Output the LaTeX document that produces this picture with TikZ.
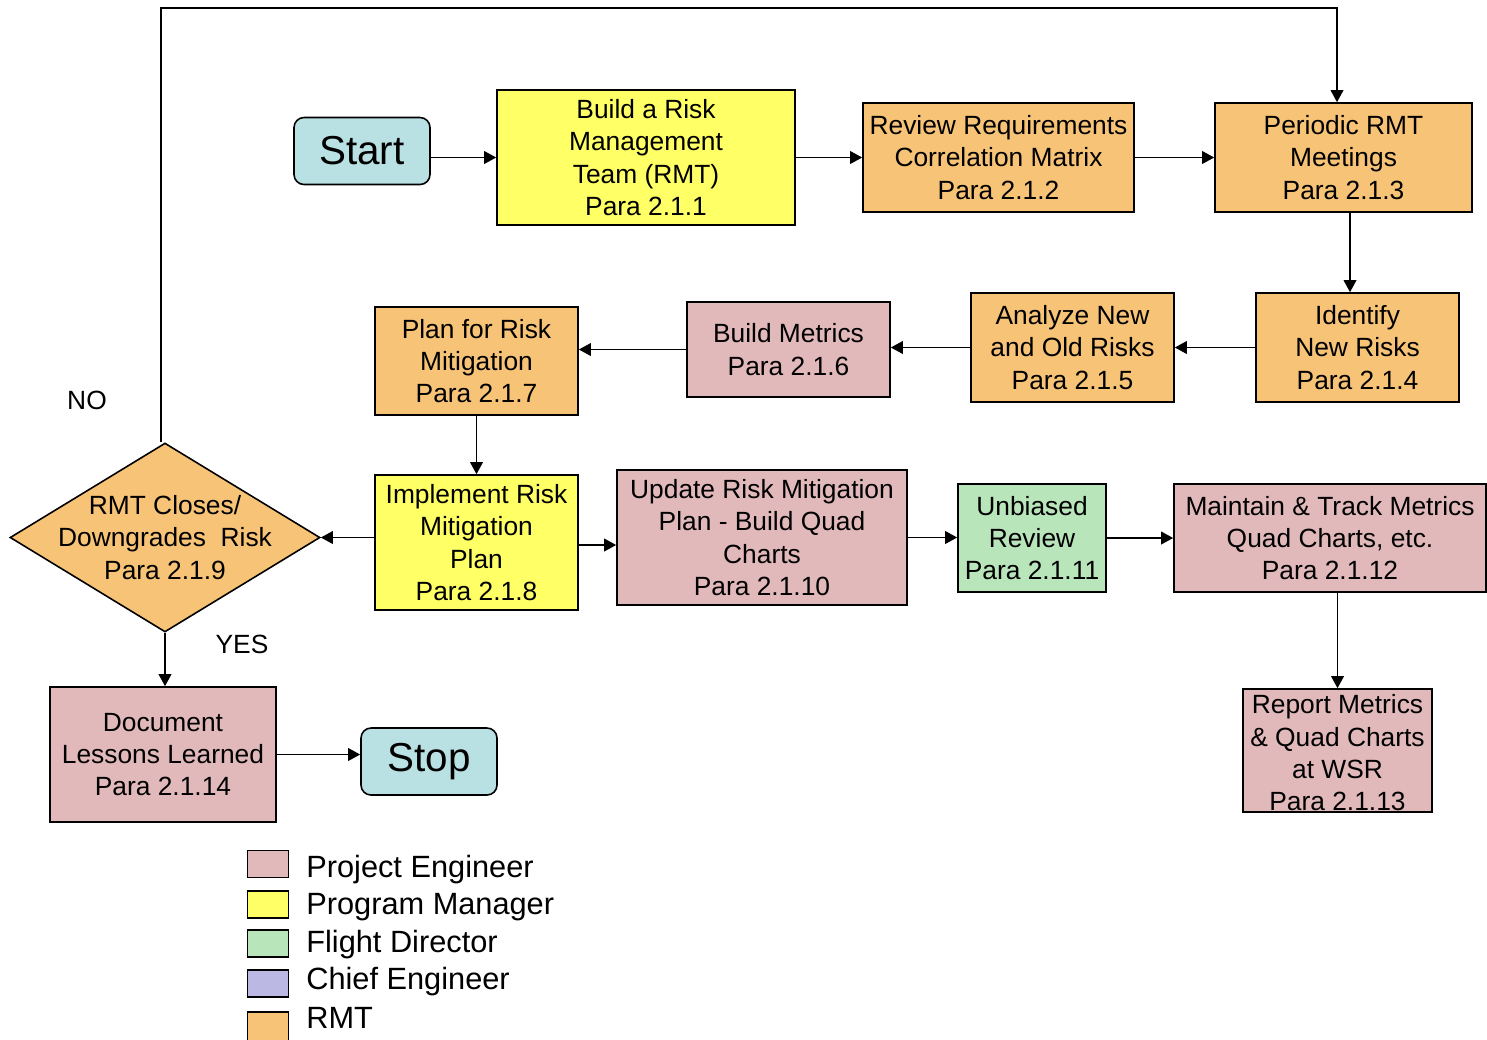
\documentclass[tikz,border=0pt]{standalone}
\usepackage{fontspec}
\setmainfont{Liberation Sans}
\usetikzlibrary{arrows.meta,shapes.geometric}
\definecolor{cpe}{RGB}{226,185,187}
\definecolor{cpm}{RGB}{255,255,102}
\definecolor{cfd}{RGB}{185,229,187}
\definecolor{cce}{RGB}{187,184,227}
\definecolor{crmt}{RGB}{247,195,118}
\definecolor{cse}{RGB}{185,224,227}
\begin{document}
\begin{tikzpicture}[x=0.02cm,y=-0.02cm,
  box/.style 2 args={draw, line width=0.9pt, inner sep=0pt, align=center,
    minimum width=#1*0.02cm, minimum height=#2*0.02cm,
    font=\fontsize{15}{18.4}\selectfont},
  txt/.style={inner sep=0pt, align=center, font=\fontsize{15}{18.4}\selectfont},
  term/.style={draw, line width=0.9pt, rounded corners=0.2cm, fill=cse, inner sep=0pt,
    minimum width=136*0.02cm, minimum height=67*0.02cm, font=\fontsize{23}{27}\selectfont},
  legsq/.style={draw, line width=0.9pt, inner sep=0pt, minimum width=41*0.02cm, minimum height=27*0.02cm},
  legtxt/.style={inner sep=0pt, anchor=base west, font=\fontsize{17.5}{21}\selectfont},
  arr/.style={line width=1.1pt, -{Triangle[length=0.24cm,width=0.25cm]}},
  ln/.style={line width=1.1pt}]
\useasboundingbox (0,0) rectangle (1487,1039);
\clip (0,0) rectangle (1487,1039);

% nodes
\node[term] (start) at (362,151) {Start};
\node[box={298}{135}, fill=cpm] (bld) at (646,157.5) {Build a Risk\\Management\\Team (RMT)\\Para 2.1.1};
\node[box={271}{109}, fill=crmt] (rev) at (998.5,157.5) {Review Requirements\\Correlation Matrix\\Para 2.1.2};
\node[box={257}{109}, fill=crmt] (per) at (1343.5,157.5) {Periodic RMT\\Meetings\\Para 2.1.3};
\node[box={203}{109}, fill=crmt] (idn) at (1357.5,347.5) {Identify\\New Risks\\Para 2.1.4};
\node[box={203}{109}, fill=crmt] (ana) at (1072.5,347.5) {Analyze New\\and Old Risks\\Para 2.1.5};
\node[box={203}{95}, fill=cpe] (met) at (788.5,349.5) {Build Metrics\\Para 2.1.6};
\node[box={203}{108}, fill=crmt] (pln) at (476.5,361) {Plan for Risk\\Mitigation\\Para 2.1.7};
\node[box={203}{135}, fill=cpm] (imp) at (476.5,542.5) {Implement Risk\\Mitigation\\Plan\\Para 2.1.8};
\node[diamond, draw, line width=0.9pt, fill=crmt, inner sep=0pt,
      minimum width=310*0.02cm, minimum height=189*0.02cm] (dia) at (165,537.5) {};
\node[txt] (diatext) at (dia.center) {RMT Closes/\\Downgrades\ \ Risk\\Para 2.1.9};
\node[box={290}{135}, fill=cpe] (upd) at (762,537.5) {Update Risk Mitigation\\Plan - Build Quad\\Charts\\Para 2.1.10};
\node[box={148}{108}, fill=cfd] (unb) at (1032,538) {Unbiased\\Review\\Para 2.1.11};
\node[box={312}{108}, fill=cpe] (mnt) at (1330,538) {Maintain \& Track Metrics\\Quad Charts, etc.\\Para 2.1.12};
\node[box={189}{123}, fill=cpe] (rep) at (1337.5,750.5) {};
\node[txt] (reptext) at (1337.5,753) {Report Metrics\\\& Quad Charts\\at WSR\\Para 2.1.13};
\node[box={226}{135}, fill=cpe] (doc) at (163,754.5) {Document\\Lessons Learned\\Para 2.1.14};
\node[term] (stop) at (429,761.5) {Stop};

% labels
\node[txt] (no) at (87,400) {NO};
\node[txt] (yes) at (242,644) {YES};

% connectors
\draw[arr] (start.east |- bld.west) -- (bld.west);
\draw[arr] (bld.east) -- (rev.west);
\draw[arr] (rev.east) -- (per.west);
\coordinate (loopL) at (162,8);
\coordinate (loopR) at (1337,8);
\draw[arr] ([xshift=-0.08cm]dia.north) -- ([xshift=-0.08cm]dia.north |- loopL) -- (loopR) -- (loopR |- per.north);
\draw[arr] ([xshift=0.13cm]per.south) -- ([xshift=0.13cm]per.south |- idn.north);
\draw[arr] (idn.west) -- (ana.east);
\draw[arr] (ana.west) -- (ana.west -| met.east);
\draw[arr] (met.west) -- (met.west -| pln.east);
\draw[arr] (pln.south) -- (imp.north);
\draw[arr] (imp.west |- dia.east) -- (dia.east);
\draw[arr] ([yshift=-0.05cm]imp.east) -- ([yshift=-0.05cm]imp.east -| upd.west);
\draw[arr] (upd.east) -- (upd.east -| unb.west);
\draw[arr] (unb.east) -- (mnt.west);
\draw[arr] (rep.north |- mnt.south) -- (rep.north);
\draw[arr] (dia.south) -- (dia.south |- doc.north);
\draw[arr] (doc.east) -- (doc.east -| stop.west);

% legend
\node[legsq, fill=cpe] (lg1) at (268,864) {};
\node[legsq, fill=cpm] (lg2) at (268,904.5) {};
\node[legsq, fill=cfd] (lg3) at (268,943.5) {};
\node[legsq, fill=cce] (lg4) at (268,983.5) {};
\node[legsq, fill=crmt, minimum height=36*0.02cm] (lg5) at (268,1030) {};
\node[legtxt] (lt1) at (306,877) {Project Engineer};
\node[legtxt] (lt2) at (306,914) {Program Manager};
\node[legtxt] (lt3) at (306,952) {Flight Director};
\node[legtxt] (lt4) at (306,989) {Chief Engineer};
\node[legtxt] (lt5) at (306,1028) {RMT};
\end{tikzpicture}
\end{document}
